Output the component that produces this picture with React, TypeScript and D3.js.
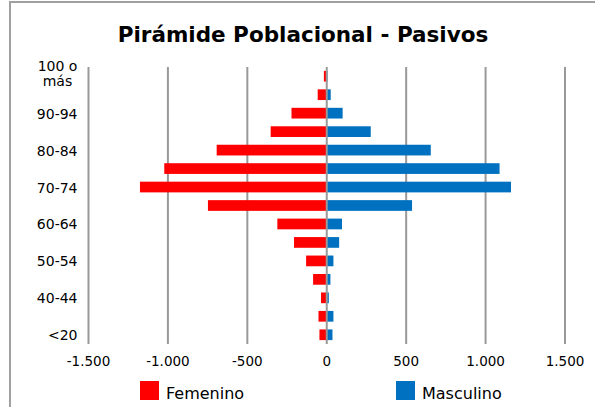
import React from "react";
import * as d3 from "d3";

// age groups, bottom to top
const ageGroups = [
  "<20", "20-39", "40-44", "45-49", "50-54", "55-59", "60-64", "65-69",
  "70-74", "75-79", "80-84", "85-89", "90-94", "95-99", "100 o más",
];
const femenino = [46, 52, 36, 86, 130, 206, 311, 748, 1176, 1023, 693, 353, 222, 57, 18];
const masculino = [36, 42, 13, 23, 42, 78, 96, 537, 1160, 1088, 655, 277, 100, 25, 5];
const xTicks = [-1500, -1000, -500, 0, 500, 1000, 1500];
const seriesNames = ["Femenino", "Masculino"];
const seriesColors = ["#ff0000", "#0070c0"];

const W = 595;
const H = 407;

const fmt = (v: number) => d3.format(",")(v).replace(/,/g, ".").replace("−", "-");

const App = () => {
  const x = d3.scaleLinear().domain([-1500, 1500]).range([88.5, 565]);
  const y = d3
    .scaleBand<string>()
    .domain([...ageGroups].reverse())
    .range([67, 344])
    .paddingInner(0.42)
    .paddingOuter(0.21);
  const step = y.step();
  const bw = y.bandwidth();
  const font = "'DejaVu Sans', sans-serif";

  return (
    <svg width={W} height={H} style={{ position: "absolute", left: 0, top: 0, background: "#fff" }}>
      {/* outer frame */}
      <rect x={10} y={2} width={700} height={600} fill="none" stroke="#a0a0a0" strokeWidth={2} />

      <text x={303} y={42} textAnchor="middle" fontFamily={font} fontWeight="bold" fontSize={21.5} fill="#000">
        Pirámide Poblacional - Pasivos
      </text>

      {/* grid */}
      {xTicks.filter(t => t !== 0).map(t => (
        <line key={t} x1={x(t)} x2={x(t)} y1={67} y2={344} stroke="#999" strokeWidth={2} />
      ))}

      {/* bars */}
      {ageGroups.map((g, i) => (
        <g key={g}>
          <rect x={x(-femenino[i])} y={y(g)} width={x(0) - x(-femenino[i])} height={bw} fill={seriesColors[0]} />
          <rect x={x(0)} y={y(g)} width={x(masculino[i]) - x(0)} height={bw} fill={seriesColors[1]} />
        </g>
      ))}

      {/* vertical axis line */}
      <line x1={x(0)} x2={x(0)} y1={67} y2={344} stroke="#999" strokeWidth={2} />

      {/* y labels, every other group */}
      {ageGroups.map((g, i) => {
        if (i % 2 !== 0) return null;
        const cy = (y(g) as number) + bw / 2;
        if (g === "100 o más") {
          return (
            <text key={g} textAnchor="middle" fontFamily={font} fontSize={14} fill="#000">
              <tspan x={57.5} y={cy - 5}>100 o</tspan>
              <tspan x={57.5} y={cy + 10}>más</tspan>
            </text>
          );
        }
        return (
          <text key={g} x={77.5} y={cy + 5.5} textAnchor="end" fontFamily={font} fontSize={14} fill="#000">
            {g}
          </text>
        );
      })}

      {/* x tick labels */}
      {xTicks.map(t => (
        <text key={t} x={x(t)} y={366} textAnchor="middle" fontFamily={font} fontSize={13.5} fill="#000">
          {fmt(t)}
        </text>
      ))}

      {/* legend */}
      {seriesNames.map((n, i) => {
        const lx = i === 0 ? 140 : 396;
        return (
          <g key={n}>
            <rect x={lx} y={381} width={19} height={19} fill={seriesColors[i]} />
            <text x={lx + 26} y={399} fontFamily={font} fontSize={16} fill="#000">
              {n}
            </text>
          </g>
        );
      })}
    </svg>
  );
};

export default App;
